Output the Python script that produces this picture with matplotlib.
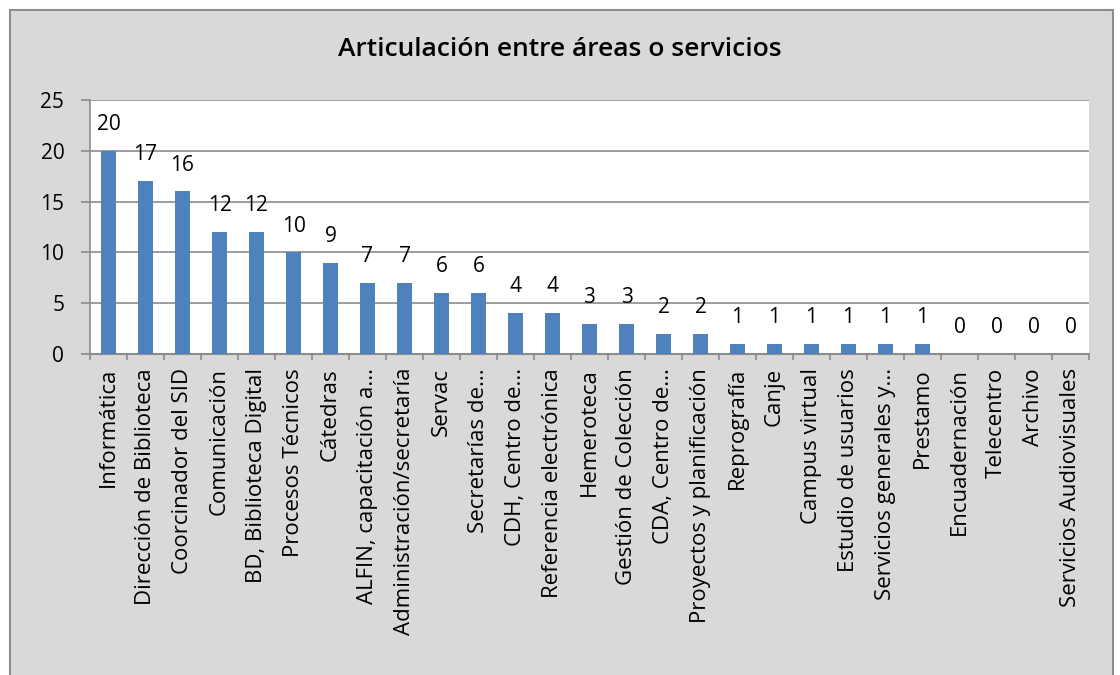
import matplotlib.pyplot as plt
from matplotlib.patches import Rectangle

categorias = [
    "Informática", "Dirección de Biblioteca", "Coorcinador del SID", "Comunicación",
    "BD, Biblioteca Digital", "Procesos Técnicos", "Cátedras", "ALFIN, capacitación a...",
    "Administración/secretaría", "Servac", "Secretarías de...", "CDH, Centro de...",
    "Referencia electrónica", "Hemeroteca", "Gestión de Colección", "CDA, Centro de...",
    "Proyectos y planificación", "Reprografía", "Canje", "Campus virtual",
    "Estudio de usuarios", "Servicios generales y...", "Prestamo", "Encuadernación",
    "Telecentro", "Archivo", "Servicios Audiovisuales",
]
valores = [20, 17, 16, 12, 12, 10, 9, 7, 7, 6, 6, 4, 4, 3, 3, 2, 2,
           1, 1, 1, 1, 1, 1, 0, 0, 0, 0]
y_ticks = [0, 5, 10, 15, 20, 25]

plt.rcParams['font.family'] = ['Open Sans', 'DejaVu Sans']

fig = plt.figure(figsize=(11.2, 6.75), dpi=100)
fig.patch.set_facecolor('white')
# marco gris de fondo
fig.add_artist(Rectangle((10 / 1120, -10 / 675), 1103 / 1120, 675 / 675,
                         transform=fig.transFigure, facecolor='#d9d9d9',
                         edgecolor='#8c8c8c', linewidth=1.5, zorder=-10))

ax = fig.add_axes([90 / 1120, 1 - 354 / 675, 999 / 1120, 254 / 675])
x = list(range(len(categorias)))
ax.bar(x, valores, width=0.38, color='#4f81bd', zorder=3)
for i, v in zip(x, valores):
    ax.annotate(str(v), (i, v), xytext=(0, 19), textcoords='offset points',
                ha='center', va='center', fontsize=15)

ax.set_xlim(-0.5, len(categorias) - 0.5)
ax.set_ylim(0, 25)
ax.set_yticks(y_ticks)
ax.yaxis.grid(True, color='#8c8c8c', linewidth=1.2, zorder=0)
ax.set_xticks(x)
ax.set_xticklabels(categorias, rotation=90, fontsize=16)
ax.set_xticks([i - 0.5 for i in range(len(categorias) + 1)], minor=True)
ax.tick_params(axis='y', labelsize=15, length=6.5, pad=12, color='#8c8c8c', width=1.2)
ax.tick_params(axis='x', which='major', length=0, pad=10)
ax.tick_params(axis='x', which='minor', length=4.5, color='#8c8c8c', width=1.2)
for s in ['top', 'right']:
    ax.spines[s].set_visible(False)
ax.spines['left'].set_color('#8c8c8c')
ax.spines['bottom'].set_color('#8c8c8c')
ax.spines['left'].set_linewidth(1.2)
ax.spines['bottom'].set_linewidth(1.5)
ax.set_facecolor('white')

fig.text(0.5, 1 - 50 / 675, "Articulación entre áreas o servicios",
         ha='center', va='center', fontsize=19, fontweight='semibold')

plt.savefig("out.png", dpi=100, facecolor=fig.get_facecolor())
